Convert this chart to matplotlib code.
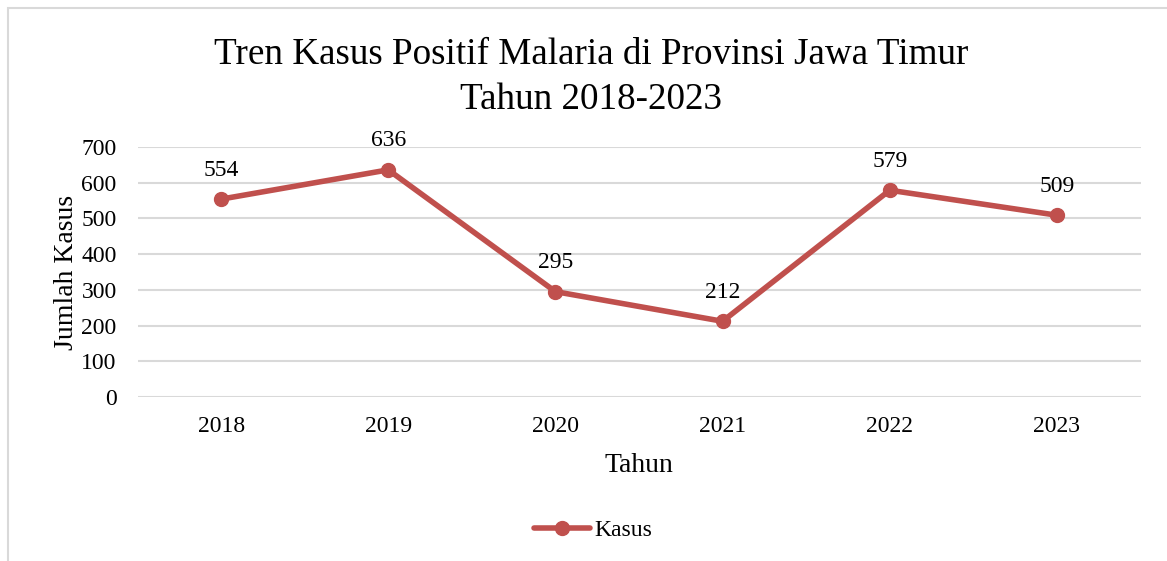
import matplotlib
matplotlib.use("Agg")
import matplotlib.pyplot as plt
from matplotlib.patches import Rectangle
from matplotlib.lines import Line2D

years = ["2018", "2019", "2020", "2021", "2022", "2023"]
kasus = [554, 636, 295, 212, 579, 509]
yticks = [0, 100, 200, 300, 400, 500, 600, 700]

plt.rcParams['font.family'] = ['Liberation Serif', 'DejaVu Serif']
color = '#C0504D'
grid_color = '#D9D9D9'

W, H = 1167, 561
fig = plt.figure(figsize=(W / 100, H / 100), dpi=100)

# chart area border (cropped)
fig.patches.append(Rectangle((8 / W, -0.1), 1.2, 1 - 8 / H + 0.1, transform=fig.transFigure,
                             fill=False, edgecolor='#D9D9D9', linewidth=1.5))

ax = fig.add_axes([137.5 / W, 1 - 397 / H, (1140.5 - 137.5) / W, (397 - 147) / H])
x = list(range(len(years)))
ax.plot(x, kasus, color=color, linewidth=4.0, marker='o', markersize=10, solid_capstyle='round')
ax.set_xlim(-0.5, len(years) - 0.5)
ax.set_ylim(0, 700)
ax.set_yticks(yticks)
ax.set_xticks(x)
ax.set_xticklabels(years)
ax.tick_params(length=0, labelsize=17, colors='black')
ax.tick_params(axis='x', pad=14)
ax.tick_params(axis='y', pad=15)
ax.grid(axis='y', color=grid_color, linewidth=1.5)
ax.set_axisbelow(True)
for s in ax.spines.values():
    s.set_visible(False)

for xi, v in zip(x, kasus):
    ax.annotate(str(v), (xi, v), xytext=(0, 17), textcoords='offset points',
                ha='center', va='baseline', fontsize=17)

ax.set_xlabel("Tahun", fontsize=20, labelpad=11)
ax.set_ylabel("Jumlah Kasus", fontsize=20, labelpad=2)

fig.text(591.5 / W, 1 - 64 / H, "Tren Kasus Positif Malaria di Provinsi Jawa Timur",
         ha='center', va='baseline', fontsize=26.7)
fig.text(591.5 / W, 1 - 109 / H, "Tahun 2018-2023",
         ha='center', va='baseline', fontsize=26.7)

handle = Line2D([], [], color=color, linewidth=4.0, marker='o', markersize=10, solid_capstyle='round')
fig.legend([handle], ["Kasus"], loc='center', bbox_to_anchor=(593 / W, 1 - 530 / H),
           frameon=False, fontsize=17, handlelength=2.4, handletextpad=0.17)

fig.savefig("out.png", dpi=100)
